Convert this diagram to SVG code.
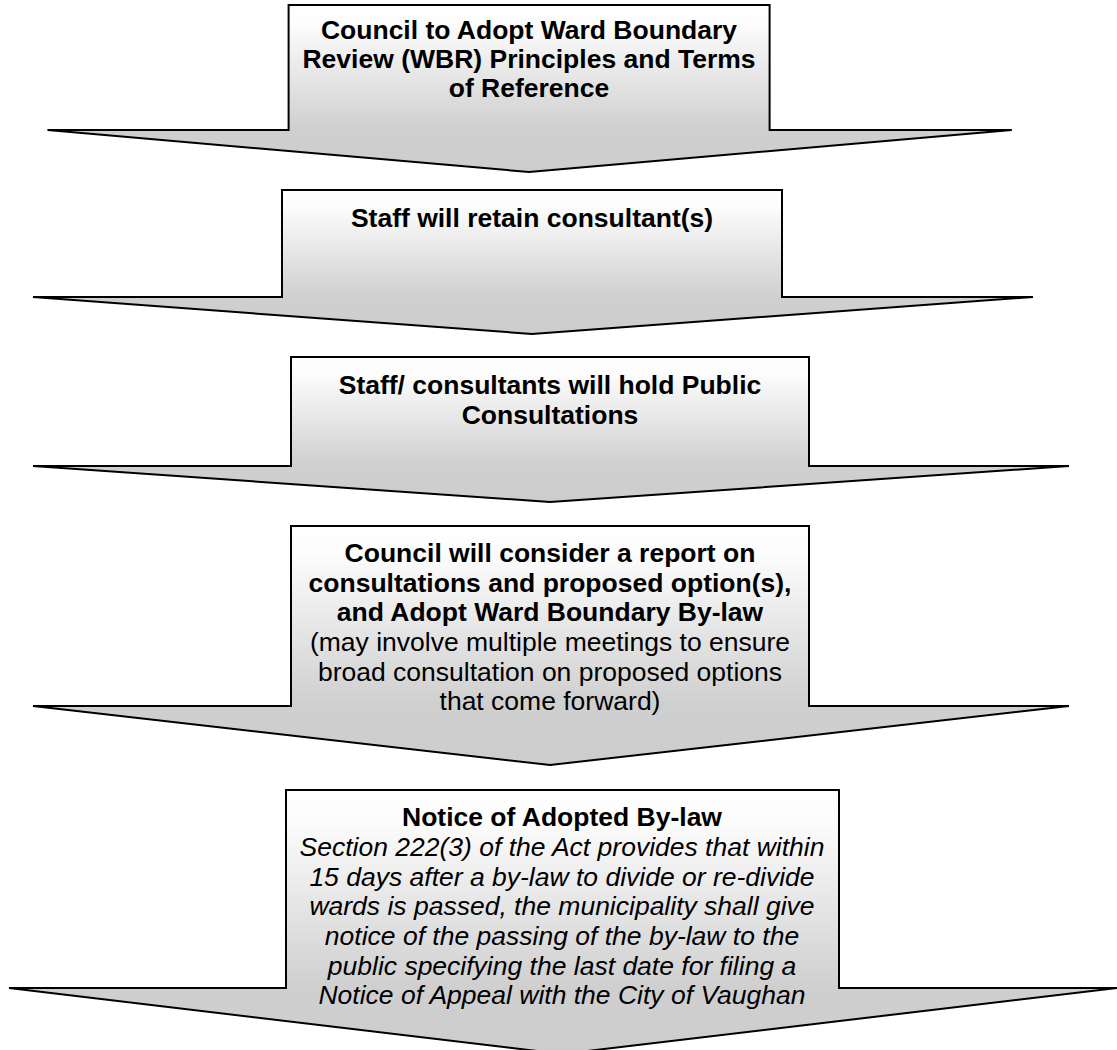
<svg xmlns="http://www.w3.org/2000/svg" width="1117" height="1050" viewBox="0 0 1117 1050">
  <defs>
    <linearGradient id="fill" x1="0" y1="0" x2="0" y2="1">
      <stop offset="0" stop-color="#ffffff"/>
      <stop offset="0.12" stop-color="#fcfcfc"/>
      <stop offset="0.75" stop-color="#cfcfcf"/>
      <stop offset="1" stop-color="#cdcdcd"/>
    </linearGradient>
  </defs>
  <style>
    .shape { fill: url(#fill); stroke: #000000; stroke-width: 2; stroke-linejoin: miter; }
    text { font-family: "Liberation Sans", Arial, sans-serif; font-size: 26.5px; fill: #000000; text-anchor: middle; }
    .b { font-weight: bold; }
    .i { font-style: italic; }
  </style>
  <rect width="1117" height="1050" fill="#ffffff"/>
  <g id="connectors"></g>
  <g id="step1">
    <path class="shape" d="M288.6,5 H769.6 V130 H1011.8 L529,172 L47.5,130 H288.6 Z"/>
    <text class="b" x="529" y="39">Council to Adopt Ward Boundary</text>
    <text class="b" x="529" y="68">Review (WBR) Principles and Terms</text>
    <text class="b" x="529" y="97">of Reference</text>
  </g>
  <g id="step2">
    <path class="shape" d="M282,190 H782 V297 H1033 L532,334 L33,297 H282 Z"/>
    <text class="b" x="532" y="227">Staff will retain consultant(s)</text>
  </g>
  <g id="step3">
    <path class="shape" d="M291,357 H809 V466 H1069 L550,502 L33,466 H291 Z"/>
    <text class="b" x="550" y="394">Staff/ consultants will hold Public</text>
    <text class="b" x="550" y="424">Consultations</text>
  </g>
  <g id="step4">
    <path class="shape" d="M291,526 H809 V706 H1069 L550,765 L33,706 H291 Z"/>
    <text class="b" x="550" y="562">Council will consider a report on</text>
    <text class="b" x="550" y="592">consultations and proposed option(s),</text>
    <text class="b" x="550" y="621">and Adopt Ward Boundary By-law</text>
    <text x="550" y="651">(may involve multiple meetings to ensure</text>
    <text x="550" y="681">broad consultation on proposed options</text>
    <text x="550" y="710">that come forward)</text>
  </g>
  <g id="step5">
    <path class="shape" d="M286,790 H839 V988 H1117 L562,1054 L9,988 H286 Z"/>
    <text class="b" x="562" y="826">Notice of Adopted By-law</text>
    <text class="i" x="562" y="856">Section 222(3) of the Act provides that within</text>
    <text class="i" x="562" y="886">15 days after a by-law to divide or re-divide</text>
    <text class="i" x="562" y="915">wards is passed, the municipality shall give</text>
    <text class="i" x="562" y="945">notice of the passing of the by-law to the</text>
    <text class="i" x="562" y="975">public specifying the last date for filing a</text>
    <text class="i" x="562" y="1004">Notice of Appeal with the City of Vaughan</text>
  </g>
</svg>
